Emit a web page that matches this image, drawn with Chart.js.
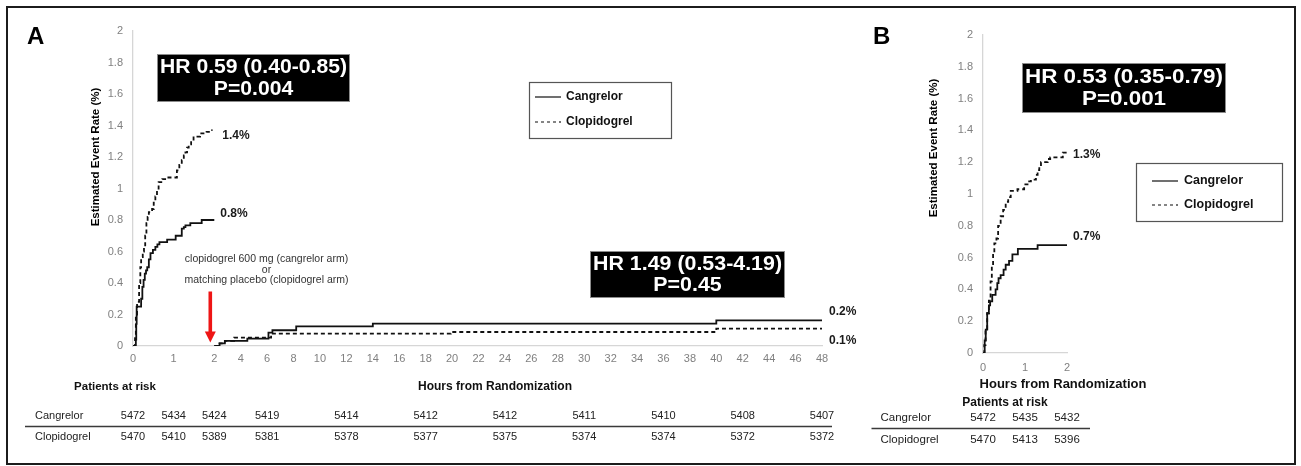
<!DOCTYPE html>
<html>
<head>
<meta charset="utf-8">
<title>Cangrelor vs Clopidogrel – Kaplan-Meier estimates</title>
<script src="https://cdn.jsdelivr.net/npm/chart.js@4/dist/chart.umd.min.js"></script>
<style>
  html, body { margin: 0; padding: 0; background: #ffffff; }
  #wrap { position: relative; width: 1301px; height: 466px; overflow: hidden; background: #fff; }
  #frame { position: absolute; left: 6px; top: 6px; width: 1290px; height: 459px;
           box-sizing: border-box; border: 2px solid #1c1c1c; pointer-events: none; }
  canvas { position: absolute; top: 0; }
  #panelA { left: 0; }
  #panelB { left: 860px; }
</style>
</head>
<body>
<div id="wrap">
  <canvas id="panelA" width="860" height="466"></canvas>
  <canvas id="panelB" width="441" height="466"></canvas>
  <div id="frame"></div>
</div>
<script>
// ---------------------------------------------------------------------------
// Data: cumulative event rate (%) by hours from randomization
// ---------------------------------------------------------------------------
const seriesNames = ['Cangrelor', 'Clopidogrel'];

// Panel A, infusion period (0–2 h)
const cangA0Hours = [0, 0.07, 0.08, 0.09, 0.2, 0.23, 0.26, 0.29, 0.32, 0.35, 0.39, 0.43, 0.49, 0.55, 0.6, 0.65, 0.84, 1.05, 1.2, 1.25, 1.29, 1.41, 1.69, 2.0];
const cangA0Rate  = [0, 0.04, 0.14, 0.25, 0.3, 0.375, 0.42, 0.46, 0.48, 0.5, 0.55, 0.59, 0.61, 0.63, 0.645, 0.66, 0.675, 0.7, 0.745, 0.755, 0.766, 0.78, 0.8, 0.8];
const clopA0Hours = [0, 0.05, 0.07, 0.1, 0.15, 0.18, 0.2, 0.24, 0.27, 0.3, 0.33, 0.36, 0.39, 0.47, 0.51, 0.55, 0.59, 0.63, 0.72, 0.84, 1.08, 1.14, 1.2, 1.25, 1.29, 1.33, 1.37, 1.43, 1.49, 1.65, 1.81, 1.94];
const clopA0Rate  = [0, 0.05, 0.2, 0.28, 0.4, 0.5, 0.565, 0.6, 0.63, 0.7, 0.78, 0.82, 0.85, 0.87, 0.91, 0.95, 0.99, 1.04, 1.06, 1.07, 1.115, 1.15, 1.18, 1.21, 1.23, 1.26, 1.28, 1.31, 1.33, 1.35, 1.36, 1.375];

// Panel A, landmark period after the 2 h loading dose (2–48 h)
const cangA2Hours = [2, 2.4, 2.8, 4.5, 6.1, 6.4, 8.2, 14, 40, 48];
const cangA2Rate  = [0, 0.017, 0.032, 0.047, 0.085, 0.1, 0.125, 0.142, 0.163, 0.163];
const clopA2Hours = [2, 2.4, 2.8, 3.5, 6.3, 19.9, 40, 48];
const clopA2Rate  = [0, 0.017, 0.032, 0.053, 0.079, 0.089, 0.11, 0.11];

// Panel B (0–2 h)
const cangBHours = [0, 0.02, 0.04, 0.065, 0.1, 0.14, 0.17, 0.22, 0.3, 0.34, 0.37, 0.42, 0.49, 0.54, 0.62, 0.7, 0.83, 1.3, 2.0];
const cangBRate  = [0, 0, 0.08, 0.147, 0.25, 0.3, 0.325, 0.365, 0.4, 0.44, 0.47, 0.49, 0.525, 0.555, 0.58, 0.62, 0.655, 0.678, 0.678];
const clopBHours = [0, 0.03, 0.06, 0.1, 0.14, 0.18, 0.21, 0.24, 0.27, 0.32, 0.36, 0.42, 0.48, 0.54, 0.6, 0.66, 0.82, 0.98, 1.06, 1.14, 1.26, 1.3, 1.34, 1.38, 1.54, 1.6, 1.9, 1.97];
const clopBRate  = [0, 0.05, 0.15, 0.25, 0.33, 0.45, 0.55, 0.63, 0.69, 0.72, 0.8, 0.86, 0.9, 0.95, 0.98, 1.02, 1.03, 1.06, 1.08, 1.09, 1.12, 1.15, 1.17, 1.2, 1.22, 1.23, 1.26, 1.28];

// Axis ticks
const hourTicksA = [0, 1, 2, 4, 6, 8, 10, 12, 14, 16, 18, 20, 22, 24, 26, 28, 30, 32, 34, 36, 38, 40, 42, 44, 46, 48];
const hourTicksB = [0, 1, 2];

// Patients at risk
const riskHoursA = [0, 1, 2, 6, 12, 18, 24, 30, 36, 42, 48];
const riskCangA  = [5472, 5434, 5424, 5419, 5414, 5412, 5412, 5411, 5410, 5408, 5407];
const riskClopA  = [5470, 5410, 5389, 5381, 5378, 5377, 5375, 5374, 5374, 5372, 5372];
const riskHoursB = [0, 1, 2];
const riskCangB  = [5472, 5435, 5432];
const riskClopB  = [5470, 5413, 5396];

// Hazard ratio annotations
const hrTextA0 = ['HR 0.59 (0.40-0.85)', 'P=0.004'];
const hrTextA2 = ['HR 1.49 (0.53-4.19)', 'P=0.45'];
const hrTextB  = ['HR 0.53 (0.35-0.79)', 'P=0.001'];
const doseNote = ['clopidogrel 600 mg (cangrelor arm)', 'or', 'matching placebo (clopidogrel arm)'];

// ---------------------------------------------------------------------------
// Styling
// ---------------------------------------------------------------------------
const FONT = '"Liberation Sans", Arial, Helvetica, sans-serif';
const INK = '#111111';
const TEXT = '#222222';
const TICK_GREY = '#808080';
const AXIS_GREY = '#d6d6d6';
const DASH = [4, 3];

// Hour axis with a break: the first 2 h are drawn wider than the 2–48 h stretch
const BREAK_HOUR = 2;
const LATE_COMPRESS = 0.325;

class BrokenHourScale extends Chart.LinearScale {
  warp(v) { return v <= BREAK_HOUR ? v : BREAK_HOUR + (v - BREAK_HOUR) * LATE_COMPRESS; }
  unwarp(u) { return u <= BREAK_HOUR ? u : BREAK_HOUR + (u - BREAK_HOUR) / LATE_COMPRESS; }
  buildTicks() { return hourTicksA.map(value => ({ value })); }
  getPixelForValue(value) {
    if (value === null || value === undefined || isNaN(value)) return NaN;
    const u0 = this.warp(this.min), u1 = this.warp(this.max);
    return this.getPixelForDecimal((this.warp(value) - u0) / (u1 - u0));
  }
  getValueForPixel(pixel) {
    const u0 = this.warp(this.min), u1 = this.warp(this.max);
    return this.unwarp(u0 + this.getDecimalForPixel(pixel) * (u1 - u0));
  }
}
BrokenHourScale.id = 'brokenHour';
BrokenHourScale.defaults = Chart.LinearScale.defaults;
Chart.register(BrokenHourScale);

function kmSeries(hours, rates, dashed) {
  return {
    data: hours.map((h, i) => ({ x: h, y: rates[i] })),
    borderColor: INK,
    borderWidth: 1.8,
    borderDash: dashed ? DASH : [],
    stepped: true,
    pointRadius: 0,
    fill: false,
    tension: 0
  };
}

function rateAxis(width) {
  return {
    min: 0, max: 2,
    grid: { display: false, drawTicks: false },
    border: { display: true, color: AXIS_GREY, width: 1.3 },
    ticks: {
      stepSize: 0.2, padding: 10, color: TICK_GREY,
      font: { family: FONT, size: 11 },
      callback: v => String(Math.round(v * 10) / 10)
    },
    afterFit: s => { s.width = width; }
  };
}

// ---------------------------------------------------------------------------
// Canvas drawing helpers
// ---------------------------------------------------------------------------
function label(ctx, str, x, y, size, opts = {}) {
  ctx.save();
  ctx.font = `${opts.bold ? 'bold ' : ''}${size}px ${FONT}`;
  ctx.fillStyle = opts.color || TEXT;
  ctx.textAlign = opts.align || 'left';
  ctx.textBaseline = 'middle';
  ctx.fillText(str, x, y);
  ctx.restore();
}

function verticalTitle(ctx, str, x, y, size) {
  ctx.save();
  ctx.translate(x, y);
  ctx.rotate(-Math.PI / 2);
  label(ctx, str, 0, 0, size, { bold: true, color: '#000', align: 'center' });
  ctx.restore();
}

function hrBox(ctx, lines, x, y, w, h) {
  ctx.save();
  ctx.fillStyle = '#000';
  ctx.fillRect(x, y, w, h);
  ctx.strokeStyle = '#8c8c8c';
  ctx.lineWidth = 1;
  ctx.strokeRect(x + 0.5, y + 0.5, w - 1, h - 1);
  ctx.font = `bold 20px ${FONT}`;
  const sx = (w - 6) / ctx.measureText(lines[0]).width;
  ctx.fillStyle = '#fff';
  ctx.textAlign = 'center';
  ctx.textBaseline = 'middle';
  [0.28, 0.73].forEach((f, i) => {
    ctx.save();
    ctx.translate(x + w / 2, y + h * f);
    ctx.scale(sx, 1);
    ctx.fillText(lines[i], 0, 0);
    ctx.restore();
  });
  ctx.restore();
}

function legendBox(ctx, x, y, w, h, rows, lineX0, lineX1, textX, size) {
  ctx.save();
  ctx.strokeStyle = '#555';
  ctx.lineWidth = 1.2;
  ctx.strokeRect(x + 0.5, y + 0.5, w, h);
  rows.forEach(r => {
    ctx.beginPath();
    ctx.setLineDash(r.dashed ? [3, 3] : []);
    ctx.strokeStyle = r.dashed ? '#444' : '#222';
    ctx.lineWidth = 1.3;
    ctx.moveTo(x + lineX0, y + r.dy);
    ctx.lineTo(x + lineX1, y + r.dy);
    ctx.stroke();
    label(ctx, r.text, x + textX, y + r.dy, size, { bold: true, color: '#111' });
  });
  ctx.restore();
}

function endLabel(ctx, xs, ys, hours, rates, dx, dy) {
  const last = rates[rates.length - 1];
  const lastHour = hours[hours.length - 1];
  label(ctx, last.toFixed(1) + '%', xs.getPixelForValue(Math.max(lastHour, 2)) + dx,
        ys.getPixelForValue(last) + dy, 12, { bold: true, color: '#1a1a1a' });
}

function riskTable(ctx, xs, hours, rowA, rowB, cfg) {
  label(ctx, seriesNames[0], cfg.nameX, cfg.rowY[0], cfg.size, { color: TEXT });
  label(ctx, seriesNames[1], cfg.nameX, cfg.rowY[1], cfg.size, { color: TEXT });
  hours.forEach((h, i) => {
    const px = xs.getPixelForValue(h);
    label(ctx, String(rowA[i]), px, cfg.rowY[0], cfg.size, { color: TEXT, align: 'center' });
    label(ctx, String(rowB[i]), px, cfg.rowY[1], cfg.size, { color: TEXT, align: 'center' });
  });
  ctx.save();
  ctx.strokeStyle = '#3a3a3a';
  ctx.lineWidth = 1.3;
  ctx.beginPath();
  ctx.moveTo(cfg.ruleX0, cfg.ruleY);
  ctx.lineTo(cfg.ruleX1, cfg.ruleY);
  ctx.stroke();
  ctx.restore();
}

// ---------------------------------------------------------------------------
// Panel A overlay: titles, HR boxes, legend, loading-dose note, risk table
// ---------------------------------------------------------------------------
const panelAOverlay = {
  id: 'panelAOverlay',
  afterDraw(chart) {
    const { ctx } = chart;
    const xs = chart.scales.x, ys = chart.scales.y;

    label(ctx, 'A', 27, 37, 24, { bold: true, color: '#000' });
    verticalTitle(ctx, 'Estimated Event Rate (%)', 96, 157, 11.5);

    hrBox(ctx, hrTextA0, 157, 54, 193, 48);
    hrBox(ctx, hrTextA2, 590, 251, 195, 47);

    legendBox(ctx, 529, 82, 142, 56,
      [{ text: seriesNames[0], dashed: false, dy: 15 },
       { text: seriesNames[1], dashed: true, dy: 40 }], 6, 32, 37, 12);

    endLabel(ctx, xs, ys, clopA0Hours, clopA0Rate, 8, 6);
    endLabel(ctx, xs, ys, cangA0Hours, cangA0Rate, 6, -6.5);
    endLabel(ctx, xs, ys, cangA2Hours, cangA2Rate, 7, -9);
    endLabel(ctx, xs, ys, clopA2Hours, clopA2Rate, 7, 12);

    // loading-dose note and arrow at the end of the infusion
    const cx = 266.5;
    doseNote.forEach((t, i) => label(ctx, t, cx, 259 + i * 10.8, 10.5, { color: '#333', align: 'center' }));
    const ax = xs.getPixelForValue(BREAK_HOUR) - 4;
    const tip = ys.getPixelForValue(0) - 3.5;
    ctx.save();
    ctx.fillStyle = '#ee1515';
    ctx.fillRect(ax - 1.8, 291.5, 3.6, tip - 291.5 - 9);
    ctx.beginPath();
    ctx.moveTo(ax - 5.5, tip - 11);
    ctx.lineTo(ax + 5.5, tip - 11);
    ctx.lineTo(ax, tip);
    ctx.closePath();
    ctx.fill();
    ctx.restore();

    label(ctx, 'Patients at risk', 115, 387, 11.5, { bold: true, color: '#111', align: 'center' });
    label(ctx, 'Hours from Randomization', 418, 387, 12, { bold: true, color: '#111' });
    riskTable(ctx, xs, riskHoursA, riskCangA, riskClopA,
      { nameX: 35, rowY: [415.5, 437], size: 11, ruleX0: 25, ruleX1: 832, ruleY: 426.5 });
  }
};

// ---------------------------------------------------------------------------
// Panel B overlay
// ---------------------------------------------------------------------------
const panelBOverlay = {
  id: 'panelBOverlay',
  afterDraw(chart) {
    const { ctx } = chart;
    const xs = chart.scales.x, ys = chart.scales.y;
    const o = 860; // canvas offset on the page

    label(ctx, 'B', 873 - o, 37, 24, { bold: true, color: '#000' });
    verticalTitle(ctx, 'Estimated Event Rate (%)', 934 - o, 148, 11.5);

    hrBox(ctx, hrTextB, 1022 - o, 63, 204, 50);

    legendBox(ctx, 1136 - o, 163, 146, 58,
      [{ text: seriesNames[0], dashed: false, dy: 18 },
       { text: seriesNames[1], dashed: true, dy: 42 }], 16, 42, 48, 12.5);

    endLabel(ctx, xs, ys, clopBHours, clopBRate, 6, 5);
    endLabel(ctx, xs, ys, cangBHours, cangBRate, 6, -9);

    label(ctx, 'Hours from Randomization', (xs.left + xs.right) / 2 - 2 + 40, 384, 13, { bold: true, color: '#111', align: 'center' });
    label(ctx, 'Patients at risk', 1005 - o, 403, 12, { bold: true, color: '#111', align: 'center' });
    riskTable(ctx, xs, riskHoursB, riskCangB, riskClopB,
      { nameX: 880.5 - o, rowY: [417.5, 440], size: 11.5, ruleX0: 871.5 - o, ruleX1: 1090 - o, ruleY: 428.5 });
  }
};

// ---------------------------------------------------------------------------
// Charts
// ---------------------------------------------------------------------------
const common = {
  responsive: false,
  animation: false,
  devicePixelRatio: 1,
  events: [],
  plugins: { legend: { display: false }, tooltip: { enabled: false } }
};

new Chart(document.getElementById('panelA'), {
  type: 'line',
  data: {
    datasets: [
      kmSeries(cangA0Hours, cangA0Rate, false),
      kmSeries(clopA0Hours, clopA0Rate, true),
      kmSeries(cangA2Hours, cangA2Rate, false),
      kmSeries(clopA2Hours, clopA2Rate, true)
    ]
  },
  options: Object.assign({}, common, {
    layout: { padding: { left: 93, right: 38, top: 31, bottom: 100 } },
    scales: {
      x: {
        type: 'brokenHour', min: 0, max: 48,
        grid: { display: false, drawTicks: false },
        border: { display: true, color: AXIS_GREY, width: 1.3 },
        ticks: { autoSkip: false, maxRotation: 0, padding: 6, color: TICK_GREY,
                 font: { family: FONT, size: 11 }, callback: v => String(v) },
        afterFit: s => { s.height = 20; }
      },
      y: rateAxis(40)
    }
  }),
  plugins: [panelAOverlay]
});

new Chart(document.getElementById('panelB'), {
  type: 'line',
  data: {
    datasets: [
      kmSeries(cangBHours, cangBRate, false),
      kmSeries(clopBHours, clopBRate, true)
    ]
  },
  options: Object.assign({}, common, {
    layout: { padding: { left: 83, right: 234, top: 35, bottom: 93 } },
    scales: {
      x: {
        type: 'linear', min: 0, max: 2,
        grid: { display: false, drawTicks: false },
        border: { display: true, color: AXIS_GREY, width: 1.3 },
        afterBuildTicks: s => { s.ticks = hourTicksB.map(value => ({ value })); },
        ticks: { autoSkip: false, maxRotation: 0, padding: 8, color: TICK_GREY,
                 font: { family: FONT, size: 11 }, callback: v => String(v) },
        afterFit: s => { s.height = 20; }
      },
      y: rateAxis(40)
    }
  }),
  plugins: [panelBOverlay]
});
</script>
</body>
</html>
